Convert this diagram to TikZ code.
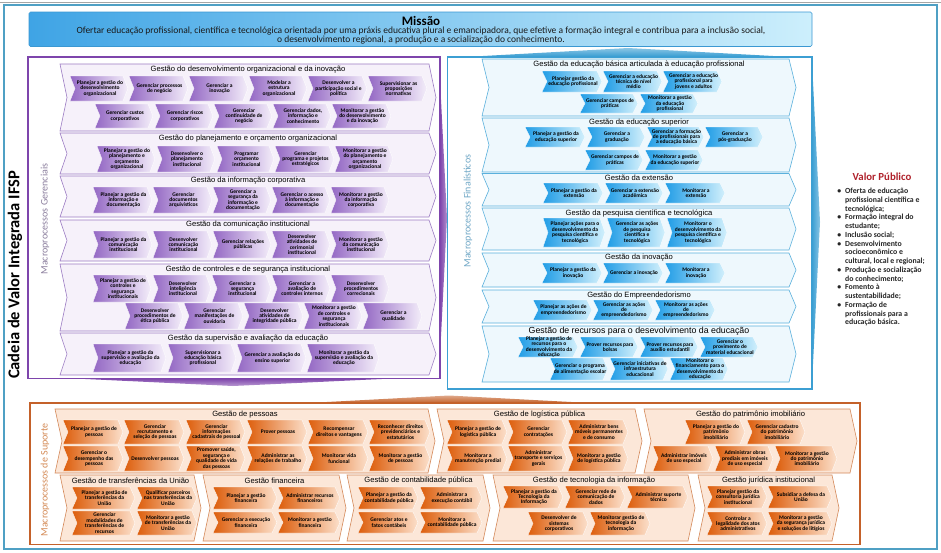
\documentclass[tikz,border=0pt]{standalone}
\usepackage{fontspec}
\setmainfont{Carlito}
\newfontfamily\ttlfont{Liberation Sans}
\definecolor{pfr}{HTML}{7E45AC}
\definecolor{pbarfill}{HTML}{F6F1FA}
\definecolor{pbardraw}{HTML}{9C7CC3}
\definecolor{pchl}{HTML}{9468C4}
\definecolor{pchr}{HTML}{F4EEFA}
\definecolor{bfr}{HTML}{3C9FD3}
\definecolor{bbarfill}{HTML}{EEF8FD}
\definecolor{bbardraw}{HTML}{5AB0DC}
\definecolor{bchl}{HTML}{219DE6}
\definecolor{bchr}{HTML}{D2F0FC}
\definecolor{ofr}{HTML}{C4612A}
\definecolor{obarfill}{HTML}{FCE7D8}
\definecolor{obardraw}{HTML}{D4895A}
\definecolor{ochl}{HTML}{DD5E0C}
\definecolor{ochr}{HTML}{FCE0CB}
\definecolor{outerc}{HTML}{4FA0C4}
\definecolor{mleft}{HTML}{3FA4E5}
\definecolor{mright}{HTML}{CDEFFC}
\definecolor{mdraw}{HTML}{3B98D2}
\definecolor{vpred}{HTML}{B0222C}
\definecolor{pgray}{HTML}{8C7F9E}
\definecolor{bgray}{HTML}{6FA7C6}
\definecolor{ogray}{HTML}{D48A55}
\newcommand\cvchev[7]{%
  \pgfmathsetmacro\cvym{(#3+#5)/2}%
  \pgfmathsetmacro\cvxa{#2+5}%
  \pgfmathsetmacro\cvxb{#4-5}%
  \pgfmathsetmacro\cvxm{(#2+#4)/2+1}%
  \path[#6] (#2,#3) -- (\cvxb,#3) -- (#4,\cvym) -- (\cvxb,#5) -- (#2,#5) -- (\cvxa,\cvym) -- cycle;
  \node[chevtext] (#1) at (\cvxm,\cvym) {#7};
}
\newcommand\cvbar[8]{%
  \pgfmathsetmacro\cvym{(#3+#5)/2}%
  \pgfmathsetmacro\cvxa{#2+7}%
  \pgfmathsetmacro\cvxb{#4-7}%
  \pgfmathsetmacro\cvxm{(#2+#4)/2}%
  \path[#6] (#2,#3) -- (\cvxb,#3) -- (#4,\cvym) -- (\cvxb,#5) -- (#2,#5) -- (\cvxa,\cvym) -- cycle;
  \node[grptitle] (#1) at (\cvxm,#8) {#7};
}
\tikzset{
  chevtext/.style={font=\fontsize{5.5}{5.4}\selectfont\bfseries, align=center, inner sep=0pt, text=black},
  grptitle/.style={font=\ttlfont\fontsize{7.6}{8}\selectfont, inner sep=0pt, text=black},
  pchev/.style={left color=pchl, right color=pchr, draw=white, line width=0.3pt},
  bchev/.style={left color=bchl, right color=bchr, draw=white, line width=0.3pt},
  ochev/.style={left color=ochl, right color=ochr, draw=white, line width=0.3pt},
  pbar/.style={fill=pbarfill, draw=pbardraw, line width=0.6pt},
  bbar/.style={fill=bbarfill, draw=bbardraw, line width=0.6pt},
  obar/.style={fill=obarfill, draw=obardraw, line width=0.6pt},
  mtxt/.style={rotate=90, font=\fontsize{10}{10}\selectfont, inner sep=0pt}
}
\begin{document}
\begin{tikzpicture}[x=1pt,y=-1pt]
\useasboundingbox (0,0) rectangle (941,552);
\fill[white] (0,0) rectangle (941,552);
\draw[outerc, line width=2pt] (4,5) rectangle (936.5,548.5);
\draw[gray!70, line width=1pt] (0,2.5) -- (941,2.5);

% Mission
\path[left color=mleft, right color=mright, draw=mdraw, line width=0.6pt, rounded corners=1.5pt] (29,12) rectangle (812,46.5);
\node[font=\fontsize{13}{13}\selectfont\bfseries, inner sep=0pt] (mtitle) at (421,20.5) {Missão};
\node[font=\fontsize{9.5}{9}\selectfont, align=center, inner sep=0pt, text=black!90] (mtext) at (421,36) {Ofertar educação profissional, científica e tecnológica orientada por uma práxis educativa plural e emancipadora, que efetive a formação integral e contribua para a inclusão social,\\o desenvolvimento regional, a produção e a socialização do conhecimento.};

% wedges
\path[top color=bfr!60, bottom color=bfr] (483,56) -- (628,48) -- (773,56) -- cycle;
\path[left color=pfr, right color=pfr!60] (440,80) -- (447,218) -- (440,356) -- cycle;
\path[top color=pfr, bottom color=pfr!55] (75,378.5) -- (392,378.5) -- (233,386) -- cycle;
\path[top color=ofr!55, bottom color=ofr] (308,403) -- (449,395.5) -- (590,403) -- cycle;
\path[left color=bfr, right color=bfr!60] (812,62) -- (820,222) -- (812,384) -- cycle;

% Frames
\draw[pfr, line width=1.4pt] (28,57) rectangle (440,378.5);
\draw[bfr, line width=1.4pt] (447.5,57) rectangle (812,389);
\draw[ofr, line width=1.4pt] (30,403) rectangle (860,544.5);

% Vertical labels
\node[rotate=90, font=\fontsize{16.5}{17}\selectfont\bfseries, inner sep=0pt] (cadeia) at (15,275) {Cadeia de Valor Integrada IFSP};
\node[mtxt, text=pgray] (mg) at (45,219) {Macroprocessos Gerenciais};
\node[mtxt, text=bgray] (mf) at (468,211) {Macroprocessos Finalísticos};
\node[mtxt, text=ogray] (ms) at (45,480) {Macroprocessos de Suporte};

% ===== Purple =====
\cvbar{pg1}{60}{64}{436}{131}{pbar}{Gestão do desenvolvimento organizacional e da inovação}{70}
\cvchev{pa1}{70}{76}{128}{101}{pchev}{Planejar a gestão do\\desenvolvimento\\organizacional}
\cvchev{pa2}{129}{76}{188}{101}{pchev}{Gerenciar processos\\de negócio}
\cvchev{pa3}{189}{76}{248}{101}{pchev}{Gerenciar a\\inovação}
\cvchev{pa4}{249}{76}{307}{101}{pchev}{Modelar a\\estrutura\\organizacional}
\cvchev{pa5}{308}{76}{367}{101}{pchev}{Desenvolver a\\participação social e\\política}
\cvchev{pa6}{368}{76}{427}{101}{pchev}{Supervisionar as\\proposições\\normativas}
\cvchev{pb1}{95}{104}{153}{128}{pchev}{Gerenciar custos\\corporativos}
\cvchev{pb2}{155}{104}{213}{128}{pchev}{Gerenciar riscos\\corporativos}
\cvchev{pb3}{214}{104}{272}{128}{pchev}{Gerenciar\\continuidade de\\negócio}
\cvchev{pb4}{273}{104}{331}{128}{pchev}{Gerenciar dados,\\informação e\\conhecimento}
\cvchev{pb5}{332}{104}{391}{128}{pchev}{Monitorar a gestão\\do desenvolvimento\\e da inovação}

\cvbar{pg2}{60}{133}{436}{174}{pbar}{Gestão do planejamento e orçamento organizacional}{139}
\cvchev{pc1}{97}{146}{155}{172}{pchev}{Planejar a gestão do\\planejamento e\\orçamento\\organizacional}
\cvchev{pc2}{157}{146}{215}{172}{pchev}{Desenvolver o\\planejamento\\institucional}
\cvchev{pc3}{217}{146}{274}{172}{pchev}{Programar\\orçamento\\institucional}
\cvchev{pc4}{275}{146}{334}{172}{pchev}{Gerenciar\\programa e projetos\\estratégicos}
\cvchev{pc5}{335}{146}{393}{172}{pchev}{Monitorar a gestão\\do planejamento e\\orçamento\\organizacional}

\cvbar{pg3}{60}{176}{436}{217}{pbar}{Gestão da informação corporativa}{181}
\cvchev{pd1}{93}{187}{152}{213}{pchev}{Planejar a gestão da\\informação e\\documentação}
\cvchev{pd2}{153}{187}{212}{213}{pchev}{Gerenciar\\documentos\\arquivísticos}
\cvchev{pd3}{213}{187}{271}{213}{pchev}{Gerenciar a\\segurança da\\informação e\\documentação}
\cvchev{pd4}{272}{187}{330}{213}{pchev}{Gerenciar o acesso\\à informação e\\documentação}
\cvchev{pd5}{331}{187}{389}{213}{pchev}{Monitorar a gestão\\da informação\\corporativa}

\cvbar{pg4}{60}{220}{436}{261}{pbar}{Gestão da comunicação institucional}{225}
\cvchev{pe1}{93}{231}{152}{258}{pchev}{Planejar a gestão da\\comunicação\\institucional}
\cvchev{pe2}{153}{231}{212}{258}{pchev}{Desenvolver\\comunicação\\institucional}
\cvchev{pe3}{213}{231}{271}{258}{pchev}{Gerenciar relações\\públicas}
\cvchev{pe4}{272}{231}{330}{258}{pchev}{Desenvolver\\atividades de\\cerimonial\\institucional}
\cvchev{pe5}{331}{231}{389}{258}{pchev}{Monitorar a gestão\\da comunicação\\institucional}

\cvbar{pg5}{60}{264}{436}{331}{pbar}{Gestão de controles e de segurança institucional}{269.5}
\cvchev{pf1}{93}{275}{151}{302}{pchev}{Planejar a gestão de\\controles e\\segurança\\institucionais}
\cvchev{pf2}{153}{275}{211}{302}{pchev}{Desenvolver\\inteligência\\institucional}
\cvchev{pf3}{212}{275}{271}{302}{pchev}{Gerenciar a\\segurança\\institucional}
\cvchev{pf4}{272}{275}{330}{302}{pchev}{Gerenciar a\\avaliação de\\controles internos}
\cvchev{pf5}{331}{275}{389}{302}{pchev}{Desenvolver\\procedimentos\\correcionais}
\cvchev{ph1}{125}{303}{183}{329}{pchev}{Desenvolver\\procedimentos de\\ética pública}
\cvchev{ph2}{184}{303}{243}{329}{pchev}{Gerenciar\\manifestações de\\ouvidoria}
\cvchev{ph3}{244}{303}{303}{329}{pchev}{Desenvolver\\atividades de\\integridade pública}
\cvchev{ph4}{304}{303}{362}{329}{pchev}{Monitorar a gestão\\de controles e\\segurança\\institucionais}
\cvchev{ph5}{363}{303}{422}{329}{pchev}{Gerenciar a\\qualidade}

\cvbar{pg6}{60}{333}{436}{375}{pbar}{Gestão da supervisão e avaliação da educação}{338.5}
\cvchev{pi1}{93}{344}{166}{372}{pchev}{Planejar a gestão da\\supervisão e avaliação da\\educação}
\cvchev{pi2}{168}{344}{236}{372}{pchev}{Supervisionar a\\educação básica\\profissional}
\cvchev{pi3}{237}{344}{306}{372}{pchev}{Gerenciar a avaliação do\\ensino superior}
\cvchev{pi4}{307}{344}{379}{372}{pchev}{Monitorar a gestão da\\supervisão e avaliação da\\educação}

% ===== Blue =====
\cvbar{bg1}{482}{59}{796}{116}{bbar}{Gestão da educação básica articulada à educação profissional}{65}
\cvchev{ba1}{542}{71}{602}{92}{bchev}{Planejar gestão da\\educação profissional}
\cvchev{ba2}{603}{71}{662}{92}{bchev}{Gerenciar a educação\\técnica de nível\\médio}
\cvchev{ba3}{663}{71}{722}{92}{bchev}{Gerenciar a educação\\profissional para\\jovens e adultos}
\cvchev{bb1}{580}{94}{638}{113}{bchev}{Gerenciar campos de\\práticas}
\cvchev{bb2}{640}{94}{698}{113}{bchev}{Monitorar a gestão\\da educação\\profissional}

\cvbar{bg2}{482}{118}{796}{172}{bbar}{Gestão da educação superior}{122.5}
\cvchev{bc1}{525}{127}{585}{147}{bchev}{Planejar a gestão da\\educação superior}
\cvchev{bc2}{587}{127}{645}{147}{bchev}{Gerenciar a\\graduação}
\cvchev{bc3}{647}{127}{704}{147}{bchev}{Gerenciar a formação\\de profissionais para\\a educação básica}
\cvchev{bc4}{705}{127}{763}{147}{bchev}{Gerenciar a\\pós-graduação}
\cvchev{bd1}{585}{150}{643}{170}{bchev}{Gerenciar campos de\\práticas}
\cvchev{bd2}{645}{150}{703}{170}{bchev}{Monitorar a gestão\\da educação superior}

\cvbar{bg3}{482}{173.5}{796}{206}{bbar}{Gestão da extensão}{178}
\cvchev{be1}{543}{183}{603}{203}{bchev}{Planejar a gestão da\\extensão}
\cvchev{be2}{605}{183}{663}{203}{bchev}{Gerenciar a extensão\\acadêmica}
\cvchev{be3}{665}{183}{725}{203}{bchev}{Monitorar a\\extensão}

\cvbar{bg4}{482}{208}{796}{250}{bbar}{Gestão da pesquisa científica e tecnológica}{213}
\cvchev{bf1}{543}{218}{605}{247}{bchev}{Planejar ações para o\\desenvolvimento da\\pesquisa científica e\\tecnológica}
\cvchev{bf2}{607}{218}{665}{247}{bchev}{Gerenciar as ações\\de pesquisa\\científica e\\tecnológica}
\cvchev{bf3}{667}{218}{727}{247}{bchev}{Monitorar o\\desenvolvimento da\\pesquisa científica e\\tecnológica}

\cvbar{bg5}{482}{253}{796}{287}{bbar}{Gestão da inovação}{258}
\cvchev{bh1}{542}{263}{602}{283}{bchev}{Planejar a gestão da\\inovação}
\cvchev{bh2}{603}{263}{663}{283}{bchev}{Gerenciar a inovação}
\cvchev{bh3}{665}{263}{725}{283}{bchev}{Monitorar a\\inovação}

\cvbar{bg6}{482}{290}{796}{323}{bbar}{Gestão do Empreendedorismo}{295.5}
\cvchev{bi1}{533}{300}{592}{320}{bchev}{Planejar as ações de\\empreendedorismo}
\cvchev{bi2}{593}{300}{653}{320}{bchev}{Gerenciar as ações\\de\\empreendedorismo}
\cvchev{bi3}{655}{300}{715}{320}{bchev}{Monitorar as ações\\de\\empreendedorismo}

\cvbar{bg7}{482}{326}{796}{382}{bbar}{{\fontsize{8.8}{9}\selectfont Gestão de recursos para o desevolvimento da educação}}{331.5}
\cvchev{bj1}{518}{337}{578}{357}{bchev}{Planejar a gestão de\\recursos para o\\desenvolvimento da\\educação}
\cvchev{bj2}{580}{337}{638}{357}{bchev}{Prover recursos para\\bolsas}
\cvchev{bj3}{640}{337}{698}{357}{bchev}{Prover recursos para\\auxílio estudantil}
\cvchev{bj4}{700}{337}{758}{357}{bchev}{Gerenciar o\\provimento de\\material educacional}
\cvchev{bk1}{550}{358}{608}{380}{bchev}{Gerenciar o programa\\de alimentação escolar}
\cvchev{bk2}{610}{358}{668}{380}{bchev}{Gerenciar iniciativas de\\infraestrutura\\educacional}
\cvchev{bk3}{670}{358}{728}{380}{bchev}{Monitorar o\\financiamento para o\\desenvolvimento da\\educação}

% ===== Valor Publico =====
\node[font=\fontsize{10.8}{11}\selectfont\bfseries, text=vpred, inner sep=0pt] (vptitle) at (882,177) {Valor Público};
\node[font=\fontsize{7.8}{8.75}\selectfont\bfseries, align=left, anchor=north west, inner sep=0pt, text=black!85] (vplist) at (845,188) {%
\llap{\textbullet\hspace{4pt}}Oferta de educação\\profissional científica e\\tecnológica;\\
\llap{\textbullet\hspace{4pt}}Formação integral do\\estudante;\\
\llap{\textbullet\hspace{4pt}}Inclusão social;\\
\llap{\textbullet\hspace{4pt}}Desenvolvimento\\socioeconômico e\\cultural, local e regional;\\
\llap{\textbullet\hspace{4pt}}Produção e socialização\\do conhecimento;\\
\llap{\textbullet\hspace{4pt}}Fomento à\\sustentabilidade;\\
\llap{\textbullet\hspace{4pt}}Formação de\\profissionais para a\\educação básica.};

% ===== Orange =====
\cvbar{og1}{55}{409}{435}{473}{obar}{Gestão de pessoas}{414.5}
\cvchev{oa1}{63}{420}{123}{444}{ochev}{Planejar a gestão de\\pessoas}
\cvchev{oa2}{124}{420}{184}{444}{ochev}{Gerenciar\\recrutamento e\\seleção de pessoas}
\cvchev{oa3}{186}{420}{245}{444}{ochev}{Gerenciar\\informações\\cadastrais de pessoal}
\cvchev{oa4}{247}{420}{307}{444}{ochev}{Prover pessoas}
\cvchev{oa5}{308}{420}{368}{444}{ochev}{Recompensar\\direitos e vantagens}
\cvchev{oa6}{369}{420}{430}{444}{ochev}{Reconhecer direitos\\previdenciários e\\estatutários}
\cvchev{ob1}{63}{446}{123}{471}{ochev}{Gerenciar o\\desempenho das\\pessoas}
\cvchev{ob2}{124}{446}{184}{471}{ochev}{Desenvolver pessoas}
\cvchev{ob3}{186}{446}{245}{471}{ochev}{Promover saúde,\\segurança e\\qualidade de vida\\das pessoas}
\cvchev{ob4}{247}{446}{307}{471}{ochev}{Administrar as\\relações de trabalho}
\cvchev{ob5}{308}{446}{368}{471}{ochev}{Monitorar vida\\funcional}
\cvchev{ob6}{369}{446}{430}{471}{ochev}{Monitorar a gestão\\de pessoas}

\cvbar{og2}{437}{409}{642}{473}{obar}{Gestão de logística pública}{414.5}
\cvchev{oc1}{447}{420}{507}{444}{ochev}{Planejar a gestão de\\logística pública}
\cvchev{oc2}{508}{420}{567}{444}{ochev}{Gerenciar\\contratações}
\cvchev{oc3}{568}{420}{628}{444}{ochev}{Administrar bens\\móveis permanentes\\e de consumo}
\cvchev{od1}{447}{446}{507}{471}{ochev}{Monitorar a\\manutenção predial}
\cvchev{od2}{508}{446}{567}{471}{ochev}{Administrar\\transporte e serviços\\gerais}
\cvchev{od3}{568}{446}{628}{471}{ochev}{Monitorar a gestão\\de logística pública}

\cvbar{og3}{644}{409}{857}{473}{obar}{Gestão do patrimônio imobiliário}{414.5}
\cvchev{oe1}{685}{420}{745}{444}{ochev}{Planejar a gestão do\\patrimônio\\imobiliário}
\cvchev{oe2}{747}{420}{805}{444}{ochev}{Gerenciar cadastro\\do patrimônio\\imobiliário}
\cvchev{of1}{653}{446}{713}{471}{ochev}{Administrar imóveis\\de uso especial}
\cvchev{of2}{715}{446}{773}{471}{ochev}{Administrar obras\\prediais em imóveis\\de uso especial}
\cvchev{of3}{775}{446}{837}{471}{ochev}{Monitorar a gestão\\do patrimônio\\imobiliário}

\cvbar{og4}{60}{475}{201}{541}{obar}{Gestão de transferências da União}{480.5}
\cvchev{og1a}{72}{487}{135}{509}{ochev}{Planejar a gestão de\\transferências da\\União}
\cvchev{og1b}{137}{487}{197}{509}{ochev}{Qualificar parceiros\\nas transferências da\\União}
\cvchev{og1c}{72}{511}{135}{535}{ochev}{Gerenciar\\modalidades de\\transferências de\\recursos}
\cvchev{og1d}{137}{511}{197}{535}{ochev}{Monitorar a gestão\\de transferências da\\União}

\cvbar{og5}{203}{475}{346}{541}{obar}{Gestão financeira}{480.5}
\cvchev{oh1}{213}{487}{277}{509}{ochev}{Planejar a gestão\\financeira}
\cvchev{oh2}{278}{487}{340}{509}{ochev}{Administrar recursos\\financeiros}
\cvchev{oh3}{213}{512}{277}{533}{ochev}{Gerenciar a execução\\financeira}
\cvchev{oh4}{278}{512}{340}{533}{ochev}{Monitorar a gestão\\financeira}

\cvbar{og6}{347}{475}{490}{541}{obar}{Gestão de contabilidade pública}{480.5}
\cvchev{oi1}{358}{487}{418}{509}{ochev}{Planejar a gestão da\\contabilidade pública}
\cvchev{oi2}{420}{487}{482}{509}{ochev}{Administrar a\\execução contábil}
\cvchev{oi3}{358}{512}{418}{533}{ochev}{Gerenciar atos e\\fatos contábeis}
\cvchev{oi4}{420}{512}{482}{533}{ochev}{Monitorar a\\contabilidade pública}

\cvbar{og7}{493}{475}{695}{541}{obar}{Gestão de tecnologia da informação}{480.5}
\cvchev{oj1}{503}{486}{563}{508}{ochev}{Planejar a gestão da\\Tecnologia da\\Informação}
\cvchev{oj2}{565}{486}{625}{508}{ochev}{Gerenciar rede de\\comunicação de\\dados}
\cvchev{oj3}{627}{486}{688}{508}{ochev}{Administrar suporte\\técnico}
\cvchev{ok1}{528}{512}{588}{535}{ochev}{Desenvolver de\\sistemas\\corporativos}
\cvchev{ok2}{590}{512}{650}{535}{ochev}{Monitorar gestão de\\tecnologia da\\informação}

\cvbar{og8}{698}{475}{839}{541}{obar}{Gestão jurídica institucional}{480.5}
\cvchev{ol1}{707}{486}{767}{508}{ochev}{Planejar gestão da\\consultoria jurídica\\institucional}
\cvchev{ol2}{768}{486}{832}{508}{ochev}{Subsidiar a defesa da\\União}
\cvchev{ol3}{707}{512}{767}{535}{ochev}{Controlar a\\legalidade dos atos\\administrativos}
\cvchev{ol4}{768}{512}{832}{535}{ochev}{Monitorar a gestão\\da segurança jurídica\\e soluções de litígios}
\end{tikzpicture}
\end{document}
